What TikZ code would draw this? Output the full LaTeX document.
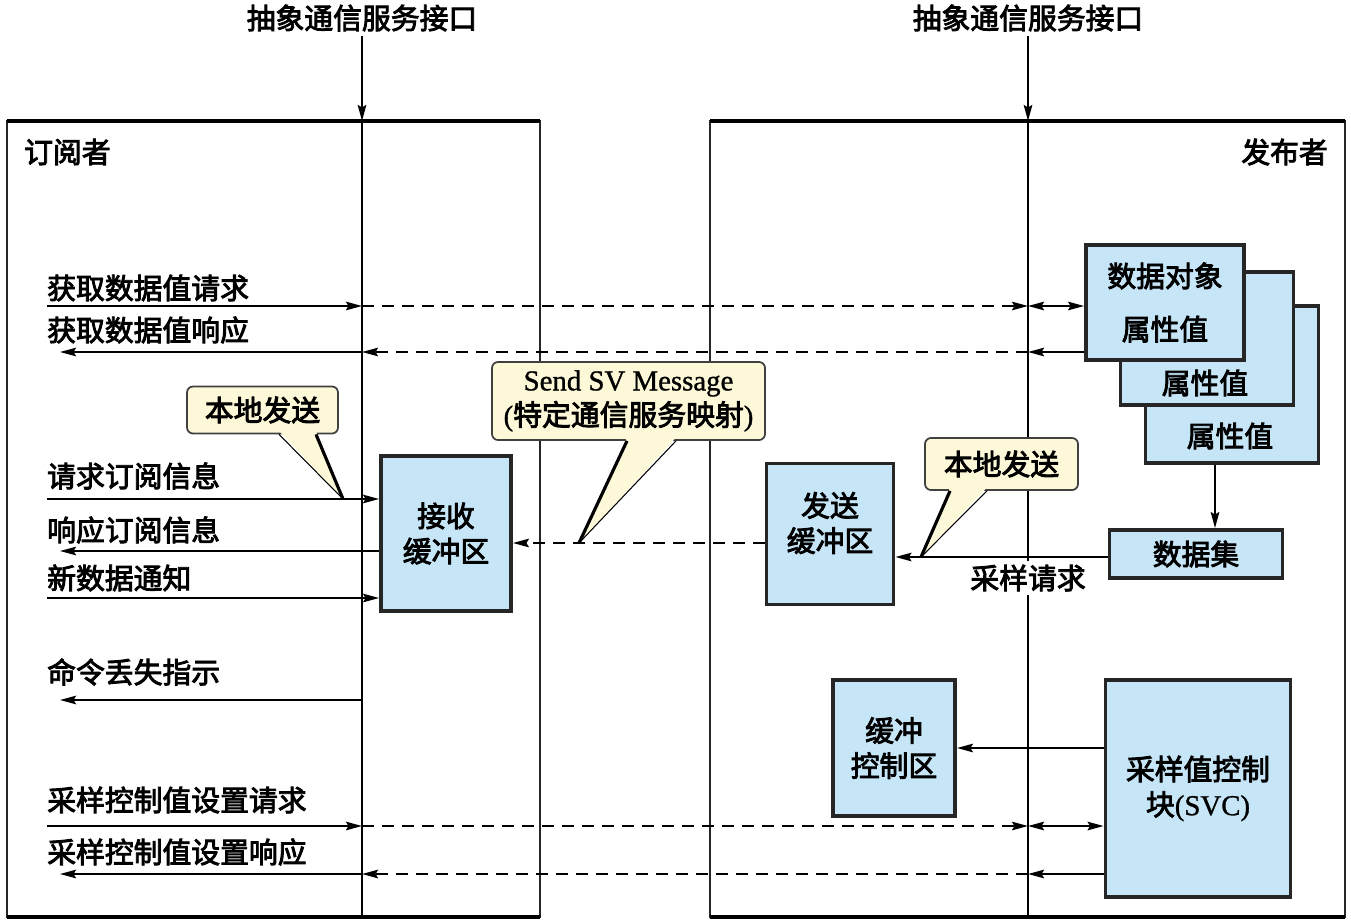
\documentclass[tikz,border=0pt]{standalone}
\usepackage{fontspec}
\setmainfont{Liberation Serif}[FakeBold=1]
\newfontfamily\cjk{Noto Sans CJK SC}[FakeBold=3]
\usetikzlibrary{arrows.meta}
\definecolor{bufblue}{HTML}{C6E6F8}
\definecolor{tipyellow}{HTML}{FDF9D8}

\begin{document}
\begin{tikzpicture}
		[x=0.1mm, y=-0.1mm, >={Stealth[length=1.6mm, width=0.85mm, inset=0.25mm]},
		font=\fontsize{8.2}{10}\selectfont\cjk,
		frame/.style={draw=black!85, line width=0.8pt, inner sep=0pt, outer sep=0pt},
		buf/.style={draw=black!85, line width=1.1pt, fill=bufblue, align=center, inner sep=0pt},
		tip/.style={draw=black!75, line width=0.5pt, fill=tipyellow, rounded corners=0.6mm, align=center, inner sep=0pt},
		lbl/.style={inner sep=1pt},
		ln/.style={line width=0.6pt},
		dsh/.style={line width=0.6pt, dash pattern=on 1.2mm off 0.8mm}]

		\useasboundingbox (0,0) rectangle (1351,923);

		\node[frame, minimum width=53.3mm, minimum height=79.6mm] (subs) at ( 273.5,519) {};
		\node[frame, minimum width=63.5mm, minimum height=79.6mm] (pubs) at (1027.5,519) {};
		\draw[line width=1.4pt] (subs.north west) -- (subs.north east);
		\draw[line width=1.4pt] (pubs.north west) -- (pubs.north east);
		\draw[line width=1.1pt] (subs.south west) -- (subs.south east);
		\draw[line width=1.1pt] (pubs.south west) -- (pubs.south east);

		\node[lbl] (ifl) at ( 362,18) {抽象通信服务接口};
		\node[lbl] (ifr) at (1028,18) {抽象通信服务接口};
		\coordinate (tl) at ( 362,121);
		\coordinate (tr) at (1028,121);
		\draw[->, ln] (ifl) -- (tl);
		\draw[->, ln] (ifr) -- (tr);
		\draw[line width=0.7pt] (tl) -- (subs.south -| tl);
		\draw[line width=0.7pt] (tr) -- (pubs.south -| tr);

		\node[lbl, anchor=west] (subn) at ( 20,152) {订阅者};
		\node[lbl, anchor=east] (pubn) at (1332,152) {发布者};

		\node[lbl, anchor=west] (l1) at (43,288) {获取数据值请求};
		\node[lbl, anchor=west] (l2) at (43,330) {获取数据值响应};
		\node[lbl, anchor=west] (l3) at (43,476) {请求订阅信息};
		\node[lbl, anchor=west] (l4) at (43,530) {响应订阅信息};
		\node[lbl, anchor=west] (l5) at (43,578) {新数据通知};
		\node[lbl, anchor=west] (l6) at (43,672) {命令丢失指示};
		\node[lbl, anchor=west] (l7) at (43,800) {采样控制值设置请求};
		\node[lbl, anchor=west] (l8) at (43,852) {采样控制值设置响应};

		\node[buf, minimum width=13mm, minimum height=15.5mm] (recv) at ( 446,533.5) {接收\\缓冲区};
		\node[buf, minimum width=12.7mm, minimum height=14.1mm] (send) at ( 830,534) {};
		\node[lbl, align=center] (sendt) at ( 830,523) {发送\\缓冲区};
		\node[buf, minimum width=17.3mm, minimum height=15.7mm] (obj3) at (1232,384.5) {};
		\node[buf, minimum width=17.3mm, minimum height=13.3mm] (obj2) at (1207,338.5) {};
		\node[buf, minimum width=15.8mm, minimum height=11.5mm] (obj1) at (1165,302.5) {数据对象\\[1.8mm]属性值};
		\node[lbl] (attr2) at (1205,383) {属性值};
		\node[lbl] (attr3) at (1230,436) {属性值};
		\node[buf, minimum width=17.3mm, minimum height=4.8mm] (dset) at (1196,554) {数据集};
		\node[buf, minimum width=12.2mm, minimum height=13.6mm] (bctl) at ( 894,748) {缓冲\\控制区};
		\node[buf, minimum width=18.5mm, minimum height=21.7mm] (svc) at (1198,788.5) {采样值控制\\块{\rmfamily(SVC)}};

		\coordinate (a1) at (47,306);
		\coordinate (a2) at (60,352);
		\coordinate (a3) at (47,499);
		\coordinate (a4) at (60,551);
		\coordinate (a5) at (47,598);
		\coordinate (a6) at (60,700);
		\coordinate (a7) at (47,826);
		\coordinate (a8) at (60,874);

		\draw[->, ln] (a1) -- (a1 -| tl);
		\draw[->, dsh] (a1 -| tl) -- (a1 -| tr);
		\draw[<->, ln] (a1 -| tr) -- (a1 -| obj1.west);
		\draw[->, ln] (a2 -| obj1.west) -- (a2 -| tr);
		\draw[->, dsh] (a2 -| tr) -- (a2 -| tl);
		\draw[->, ln] (a2 -| tl) -- (a2);

		\draw[->, ln] (a3) -- (a3 -| recv.west);
		\draw[->, ln] (a4 -| recv.west) -- (a4);
		\draw[->, ln] (a5) -- (a5 -| recv.west);
		\draw[->, ln] (a6 -| tl) -- (a6);

		\draw[->, ln] (a7) -- (a7 -| tl);
		\draw[->, dsh] (a7 -| tl) -- (a7 -| tr);
		\draw[<->, ln] (a7 -| tr) -- (a7 -| svc.west);
		\draw[->, ln] (a8 -| svc.west) -- (a8 -| tr);
		\draw[->, dsh] (a8 -| tr) -- (a8 -| tl);
		\draw[->, ln] (a8 -| tl) -- (a8);

		\coordinate (sv) at (800,543);
		\draw[->, dsh] (sv -| send.west) -- (sv -| recv.east);
		\coordinate (sq) at (1000,557);
		\draw[->, ln] (sq -| dset.west) -- (sq -| send.east);
		\node[lbl, fill=white] (sreq) at (1028,578) {采样请求};
		\coordinate (dd) at ([xshift=-1.7mm]obj3.south);
		\draw[->, ln] (dd) -- (dd |- dset.north);
		\draw[->, ln] (svc.west |- bctl) -- (bctl.east);

		\node[tip, minimum width=15.1mm, minimum height=4.7mm] (ltip) at ( 262.5,410) {本地发送};
		\coordinate (ltipp) at (343,499);
		\fill[tipyellow] ([xshift=1.65mm, yshift=0.35mm]ltip.south) -- (ltipp) -- ([xshift=5.35mm, yshift=0.35mm]ltip.south) -- cycle;
		\draw[line width=0.3pt] ([xshift=1.65mm]ltip.south) -- (ltipp);
		\draw[line width=0.9pt] ([xshift=5.35mm]ltip.south) -- (ltipp);

		\node[tip, minimum width=27.3mm, minimum height=7.8mm] (mtip) at ( 628.5,401) {{\rmfamily Send SV Message}\\{\rmfamily(}特定通信服务映射{\rmfamily)}};
		\coordinate (mtipp) at (579,543);
		\fill[tipyellow] ([xshift=-0.15mm, yshift=0.35mm]mtip.south) -- (mtipp) -- ([xshift=4.75mm, yshift=0.35mm]mtip.south) -- cycle;
		\draw[line width=0.9pt] ([xshift=-0.15mm]mtip.south) -- (mtipp);
		\draw[line width=0.3pt] ([xshift=4.75mm]mtip.south) -- (mtipp);

		\node[tip, minimum width=15.3mm, minimum height=5.2mm] (rtip) at (1001.5,464) {本地发送};
		\coordinate (rtipp) at (921,557);
		\fill[tipyellow] ([xshift=-5.15mm, yshift=0.35mm]rtip.south) -- (rtipp) -- ([xshift=-1.45mm, yshift=0.35mm]rtip.south) -- cycle;
		\draw[line width=0.9pt] ([xshift=-5.15mm]rtip.south) -- (rtipp);
		\draw[line width=0.3pt] ([xshift=-1.45mm]rtip.south) -- (rtipp);

	\end{tikzpicture}
\end{document}
